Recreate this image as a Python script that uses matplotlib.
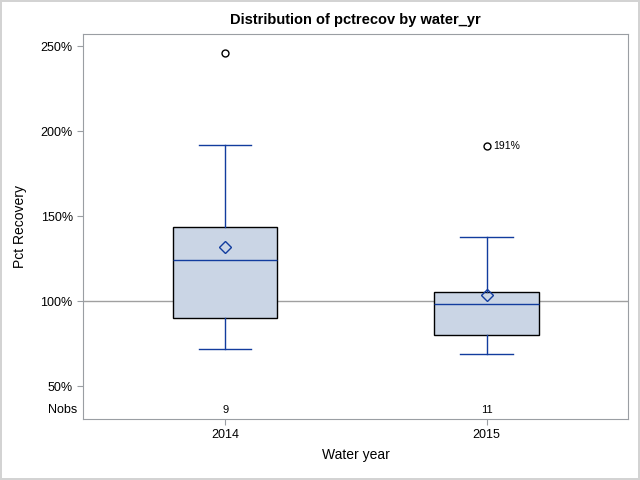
import matplotlib
matplotlib.use('Agg')
import matplotlib.pyplot as plt
import matplotlib.transforms as mtransforms

plt.rcParams['font.family'] = ['Liberation Sans', 'DejaVu Sans']

# Summary values (percent recovery)
years = ['2014', '2015']
nobs = [9, 11]
whislo = [71.6, 68.6]
q1 = [89.8, 79.8]
med = [124.1, 98.2]
q3 = [143.5, 105.1]
whishi = [191.6, 138.0]
means = [131.8, 103.7]
outliers = [[246.0], [191.0]]
outlier_labels = [[''], ['191%']]

line_col = '#123C9E'
fill_col = '#CAD5E5'
frame_col = '#9A9EA3'

stats = []
for i in range(len(years)):
    stats.append({'whislo': whislo[i], 'q1': q1[i], 'med': med[i], 'q3': q3[i],
                  'whishi': whishi[i], 'mean': means[i], 'fliers': outliers[i],
                  'label': years[i]})

fig = plt.figure(figsize=(6.4, 4.8), dpi=100, linewidth=1.5, edgecolor='#D3D3D3')
ax = fig.add_axes([0.130, 0.127, 0.852, 0.802])

# reference line at 100%
ax.axhline(100, color='#A0A0A0', lw=1, zorder=1)

ax.bxp(stats, positions=[1, 2], widths=0.40, patch_artist=True, showmeans=True,
       boxprops=dict(facecolor=fill_col, edgecolor='black', lw=1),
       medianprops=dict(color=line_col, lw=1),
       whiskerprops=dict(color=line_col, lw=1),
       capprops=dict(color=line_col, lw=1),
       capwidths=0.2,
       meanprops=dict(marker='D', markerfacecolor='none', markeredgecolor=line_col,
                      markersize=6, markeredgewidth=1),
       flierprops=dict(marker='o', markerfacecolor='none', markeredgecolor='black',
                       markersize=5, markeredgewidth=1),
       zorder=2)

# outlier labels
for i in range(len(years)):
    for v, lab in zip(outliers[i], outlier_labels[i]):
        if lab:
            ax.annotate(lab, (i + 1, v), xytext=(5, 0), textcoords='offset points',
                        va='center', ha='left', fontsize=7.5)

# Nobs row inside the plot area
trans = mtransforms.blended_transform_factory(ax.transData, ax.transAxes)
for i in range(len(years)):
    ax.text(i + 1, 0.023, str(nobs[i]), transform=trans, ha='center', va='center', fontsize=8)
ax.text(-0.01, 0.023, 'Nobs', transform=ax.transAxes, ha='right', va='center', fontsize=9)

ax.set_xlim(0.457, 2.543)
ax.set_ylim(30.6, 257.1)
ax.set_yticks([50, 100, 150, 200, 250])
ax.set_yticklabels(['%d%%' % t for t in [50, 100, 150, 200, 250]])
ax.set_xticks([1, 2])
ax.set_xticklabels(years)

for s in ax.spines.values():
    s.set_color(frame_col)
ax.tick_params(colors=frame_col, labelcolor='black', labelsize=9, length=4)

ax.set_title('Distribution of pctrecov by water_yr', fontsize=10.5, fontweight='bold', pad=7)
ax.set_xlabel('Water year', fontsize=10, labelpad=5)
ax.set_ylabel('Pct Recovery', fontsize=10, labelpad=10)

fig.savefig('out.png', dpi=100)
